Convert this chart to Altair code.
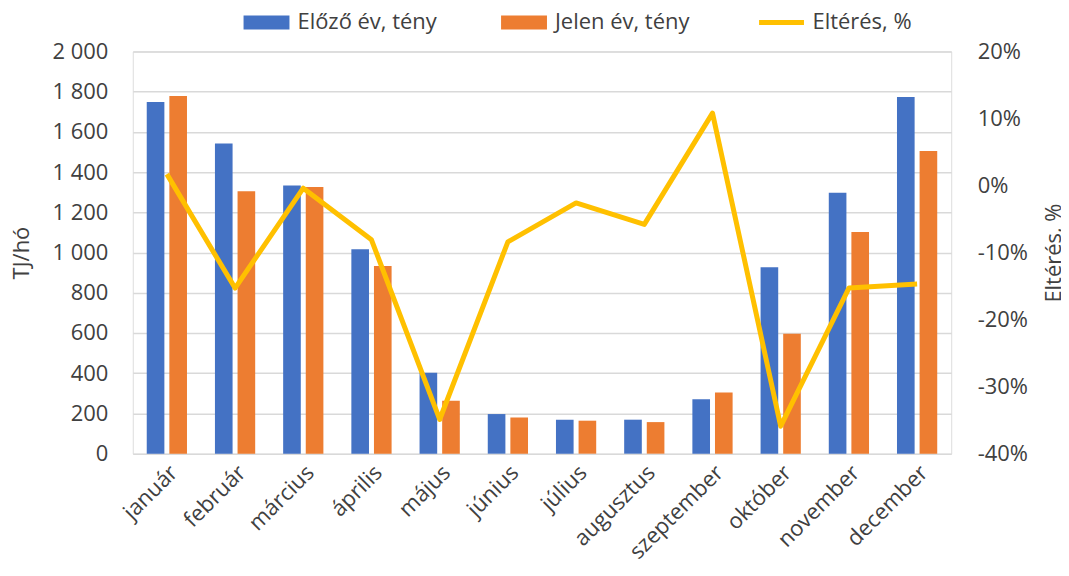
import altair as alt
import pandas as pd

months = ["január", "február", "március", "április", "május", "június",
          "július", "augusztus", "szeptember", "október", "november", "december"]
prev_year = [1748, 1542, 1333, 1017, 403, 197, 169, 169, 271, 927, 1297, 1773]
curr_year = [1778, 1305, 1326, 933, 263, 180, 164, 157, 304, 596, 1102, 1505]
diff_pct = [1.7, -15.3, -0.4, -8.1, -34.9, -8.4, -2.6, -5.8, 10.8, -35.9, -15.3, -14.7]

S1 = "Előző év, tény"
S2 = "Jelen év, tény"
S3 = "Eltérés, %"
series_names = [S1, S2, S3]
series_colors = ["#4472C4", "#ED7D31", "#FFC000"]
left_ticks = list(range(0, 2001, 200))
right_ticks = [-40, -30, -20, -10, 0, 10, 20]

bars_df = pd.DataFrame({
    "month": months * 2,
    "series": [S1] * len(months) + [S2] * len(months),
    "value": prev_year + curr_year,
})
line_df = pd.DataFrame({"month": months, "series": [S3] * len(months), "pct": diff_pct})

FONT = "Open Sans"
TXT = "#404040"

color_scale = alt.Scale(domain=series_names, range=series_colors)

rect_path = "M-4.6,-1.4H4.6V1.4H-4.6Z"
line_path = "M-4.5,-0.5H4.5V0.5H-4.5Z"
legend = alt.Legend(
    title=None, orient="none", legendX=123, legendY=-40, direction="horizontal",
    labelFontSize=22, labelColor=TXT, labelFont=FONT, symbolSize=100,
    labelOffset=20, columnPadding=64, gridAlign="all", symbolStrokeWidth=0,
    symbolOpacity=1, labelLimit=400,
    symbolType={"expr": f"datum.value === '{S3}' ? '{line_path}' : '{rect_path}'"},
)

xenc = alt.X("month:N", sort=months,
             scale=alt.Scale(paddingInner=0.41, paddingOuter=0.205),
             axis=alt.Axis(title=None, labelAngle=-45, domain=False, ticks=False,
                           labelPadding=8, labelFontSize=22, labelColor=TXT, labelFont=FONT))

bars = alt.Chart(bars_df).mark_bar().encode(
    x=xenc,
    xOffset=alt.XOffset("series:N", sort=[S1, S2],
                        scale=alt.Scale(paddingInner=0.22, paddingOuter=0)),
    y=alt.Y("value:Q", scale=alt.Scale(domain=[0, 2000], nice=False),
            axis=alt.Axis(title="TJ/hó", values=left_ticks,
                          labelExpr="replace(format(datum.value, ',d'), ',', ' ')",
                          domain=False, ticks=False, grid=True, gridColor="#D9D9D9",
                          gridWidth=1.5, labelPadding=25, labelFontSize=22,
                          labelColor=TXT, labelFont=FONT, titleFontSize=22,
                          titleFont=FONT, titleFontWeight="normal", titleColor=TXT,
                          titlePadding=18)),
    color=alt.Color("series:N", scale=color_scale, legend=legend),
)

line = alt.Chart(line_df).mark_line(strokeWidth=5, strokeJoin="round").encode(
    x=xenc,
    y=alt.Y("pct:Q", scale=alt.Scale(domain=[-40, 20], nice=False),
            axis=alt.Axis(orient="right", title="Eltérés, %", values=right_ticks,
                          labelExpr="datum.value + '%'", domain=False, ticks=False,
                          grid=False, labelPadding=26, labelFontSize=22,
                          labelColor=TXT, labelFont=FONT, titleFontSize=22,
                          titleFont=FONT, titleFontWeight="normal", titleColor=TXT,
                          titleAngle=270, titlePadding=38)),
    color=alt.Color("series:N", scale=color_scale, legend=None),
)

chart = alt.layer(bars, line).resolve_scale(y="independent").properties(
    width=820, height=403,
    autosize=alt.AutoSizeParams(type="none"),
    padding={"left": 125, "top": 43, "right": 110, "bottom": 105},
).configure_view(stroke=None).configure(font=FONT)

chart.save("out.html", embed_options={"renderer": "svg", "actions": False})
